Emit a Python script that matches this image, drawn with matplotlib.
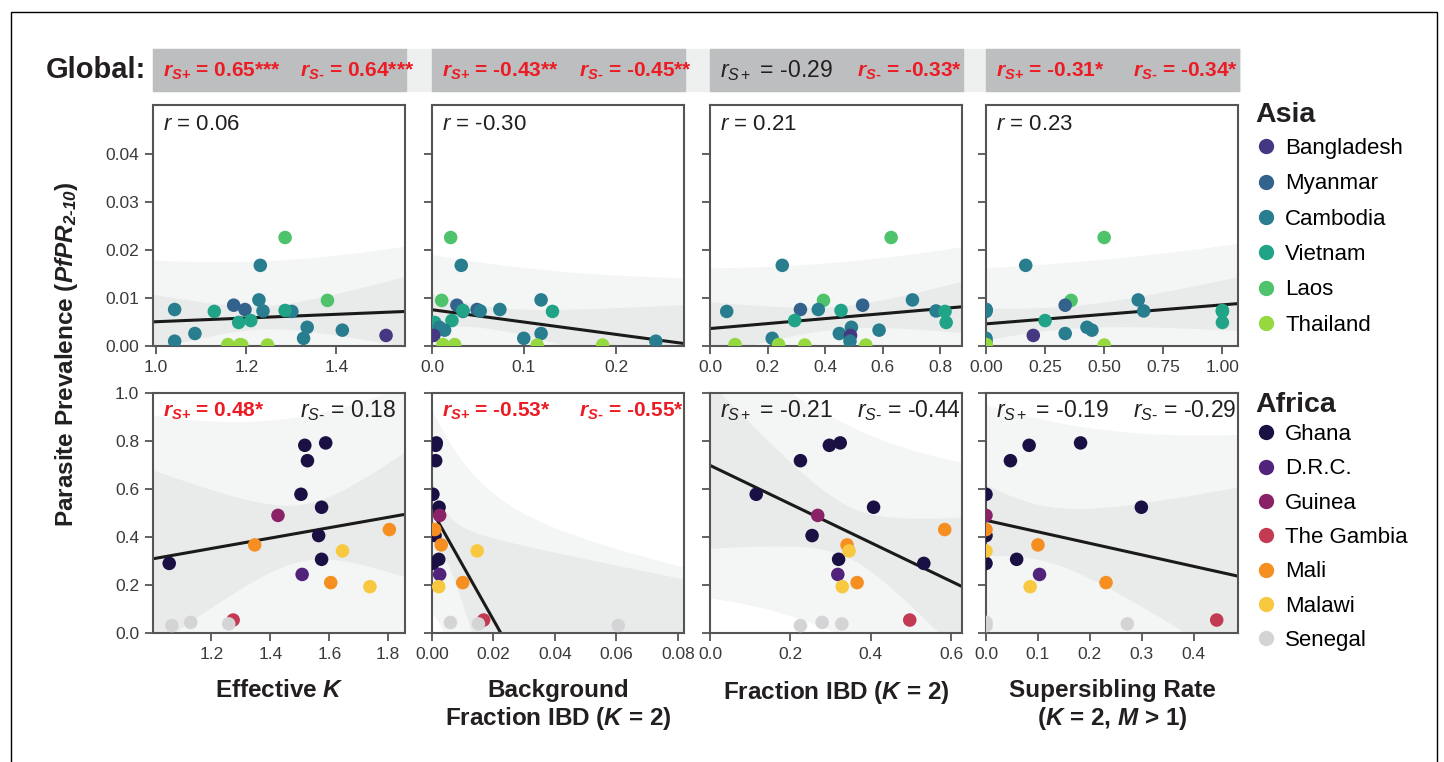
import numpy as np
import matplotlib.pyplot as plt
from matplotlib.patches import Rectangle
from matplotlib.lines import Line2D

plt.rcParams['font.family'] = ['Liberation Sans', 'DejaVu Sans']
plt.rcParams['mathtext.fontset'] = 'custom'
plt.rcParams['mathtext.rm'] = 'Liberation Sans'
plt.rcParams['mathtext.it'] = 'Liberation Sans:italic'
plt.rcParams['mathtext.bf'] = 'Liberation Sans:bold'
plt.rcParams['mathtext.bfit'] = 'Liberation Sans:italic:bold'

# ---------------- data ----------------
asia_names = ["Bangladesh", "Myanmar", "Cambodia", "Vietnam", "Laos", "Thailand"]
asia_colors = ["#453781", "#33638d", "#287d8e", "#20a386", "#4ec36b", "#95d840"]
africa_names = ["Ghana", "D.R.C.", "Guinea", "The Gambia", "Mali", "Malawi", "Senegal"]
africa_colors = ["#1b1044", "#51237a", "#8a2267", "#c33b52", "#f68f21", "#f8c841", "#d4d4d6"]

asia_country = ["Laos", "Cambodia", "Cambodia", "Laos", "Myanmar", "Myanmar", "Cambodia",
                "Cambodia", "Cambodia", "Vietnam", "Vietnam", "Vietnam", "Vietnam", "Cambodia",
                "Cambodia", "Cambodia", "Bangladesh", "Cambodia", "Cambodia", "Thailand",
                "Thailand", "Thailand", "Thailand"]
asia_prev = [0.0226, 0.0168, 0.0096, 0.0095, 0.0085, 0.0076, 0.0076, 0.0073, 0.0072, 0.0074,
             0.0072, 0.0053, 0.0049, 0.0039, 0.0033, 0.0026, 0.0022, 0.0016, 0.0010, 0.0003,
             0.0003, 0.0002, 0.0002]
asia_effk = [1.286, 1.231, 1.228, 1.380, 1.172, 1.197, 1.041, 1.237, 1.301, 1.286, 1.129, 1.210,
             1.183, 1.335, 1.413, 1.086, 1.510, 1.327, 1.041, 1.159, 1.186, 1.247, 1.190]
asia_bg = [0.0203, 0.0318, 0.1186, 0.0105, 0.0271, 0.049, 0.0738, 0.0524, 0.0336, 0.0336,
           0.131, 0.0217, 0.003, 0.008, 0.0137, 0.1186, 0.002, 0.0998, 0.2434, 0.0119,
           0.0246, 0.1143, 0.1855]
asia_frac = [0.629, 0.251, 0.703, 0.394, 0.530, 0.314, 0.376, 0.785, 0.058, 0.455, 0.816, 0.294,
             0.820, 0.491, 0.587, 0.449, 0.488, 0.216, 0.486, 0.087, 0.238, 0.329, 0.541]
asia_ss = [0.50, 0.168, 0.644, 0.36, 0.335, 0.0, 0.0, 0.667, 0.0, 1.0, 1.0, 0.25, 1.0, 0.427,
           0.448, 0.335, 0.20, 0.0, 0.0, 0.0, 0.0, 0.50, 0.0]

africa_country = ["Ghana", "Ghana", "Ghana", "Ghana", "Ghana", "Ghana", "Ghana", "Ghana",
                  "Guinea", "D.R.C.", "Mali", "Mali", "Mali", "Malawi", "Malawi", "The Gambia",
                  "Senegal", "Senegal", "Senegal"]
africa_prev = [0.290, 0.782, 0.792, 0.718, 0.578, 0.524, 0.406, 0.307, 0.490, 0.244, 0.367,
               0.431, 0.210, 0.342, 0.193, 0.054, 0.031, 0.044, 0.038]
africa_effk = [1.057, 1.517, 1.588, 1.526, 1.504, 1.574, 1.564, 1.574, 1.426, 1.508, 1.347,
               1.804, 1.605, 1.645, 1.738, 1.274, 1.066, 1.130, 1.259]
africa_bg = [0.0003, 0.0012, 0.0014, 0.0012, 0.0003, 0.0023, 0.001, 0.0022, 0.0025, 0.0025,
             0.003, 0.0009, 0.010, 0.0147, 0.0022, 0.0168, 0.0606, 0.006, 0.0151]
africa_frac = [0.532, 0.297, 0.324, 0.225, 0.115, 0.407, 0.254, 0.320, 0.268, 0.318, 0.341,
               0.584, 0.366, 0.346, 0.329, 0.497, 0.225, 0.279, 0.328]
africa_ss = [0.0, 0.083, 0.182, 0.047, 0.0, 0.299, 0.0, 0.059, 0.0, 0.103, 0.1, 0.0, 0.231,
             0.0, 0.085, 0.444, 0.0, 0.0, 0.272]

global_stats = [("0.65***", "0.64***"), ("-0.43**", "-0.45**"), ("-0.29", "-0.33*"), ("-0.31*", "-0.34*")]
asia_r = ["0.06", "-0.30", "0.21", "0.23"]
africa_stats = [("0.48*", "0.18"), ("-0.53*", "-0.55*"), ("-0.21", "-0.44"), ("-0.19", "-0.29")]

x_labels = ["Effective $\\mathbfit{K}$",
            "Background\nFraction IBD ($\\mathbfit{K}$ = 2)",
            "Fraction IBD ($\\mathbfit{K}$ = 2)",
            "Supersibling Rate\n($\\mathbfit{K}$ = 2, $\\mathbfit{M}$ > 1)"]

top_xlim = [(0.993, 1.552), (0.0, 0.274), (0.0, 0.875), (0.0, 1.066)]
top_xticks = [[1.0, 1.2, 1.4], [0.0, 0.1, 0.2], [0.0, 0.2, 0.4, 0.6, 0.8], [0.0, 0.25, 0.5, 0.75, 1.0]]
top_xtl = [["1.0", "1.2", "1.4"], ["0.0", "0.1", "0.2"], ["0.0", "0.2", "0.4", "0.6", "0.8"],
           ["0.00", "0.25", "0.50", "0.75", "1.00"]]
bot_xlim = [(1.002, 1.857), (0.0, 0.082), (0.0, 0.627), (0.0, 0.485)]
bot_xticks = [[1.2, 1.4, 1.6, 1.8], [0.0, 0.02, 0.04, 0.06, 0.08], [0.0, 0.2, 0.4, 0.6],
              [0.0, 0.1, 0.2, 0.3, 0.4]]
bot_xtl = [["1.2", "1.4", "1.6", "1.8"], ["0.00", "0.02", "0.04", "0.06", "0.08"],
           ["0.0", "0.2", "0.4", "0.6"], ["0.0", "0.1", "0.2", "0.3", "0.4"]]

RED = "#ec1c24"
W, H = 1444, 762


def tcrit(df):
    try:
        from scipy import stats
        return stats.t.ppf(0.975, df)
    except Exception:
        table = {14: 2.145, 15: 2.131, 16: 2.120, 17: 2.110, 19: 2.093, 21: 2.080}
        return table.get(df, 2.1)


def fit_bands(x, y, xs):
    x = np.asarray(x, float)
    y = np.asarray(y, float)
    b, a = np.polyfit(x, y, 1)
    n = len(x)
    s = np.sqrt(np.sum((y - (a + b * x)) ** 2) / (n - 2))
    sxx = np.sum((x - x.mean()) ** 2)
    t = tcrit(n - 2)
    ci = t * s * np.sqrt(1 / n + (xs - x.mean()) ** 2 / sxx)
    pi = t * s * np.sqrt(1 + 1 / n + (xs - x.mean()) ** 2 / sxx)
    return a + b * xs, ci, pi


SUBS = [("\\mathbfit{S}\\mathbf{+}", "S+"), ("\\mathbfit{S}\\mathbf{\u2010}", "S\u2010")]


def stat_label(k, val):
    bold_sub, plain_sub = SUBS[k]
    if "*" in val:
        return ("$\\mathbfit{r}_{" + bold_sub + "}$ = " + val,
                dict(color=RED, fontweight="bold", fontsize=15))
    return "$r_{" + plain_sub + "}$ = " + val, dict(color="#231f20", fontsize=16.5)


fig = plt.figure(figsize=(W / 100, H / 100), dpi=100)

col_l = [153, 432, 710, 986]
col_w = 252
rows = [(105, 346), (393, 633)]


def px_axes(l, t, r, b):
    return fig.add_axes([l / W, 1 - b / H, (r - l) / W, (b - t) / H])


# banner
fig.patches.append(Rectangle((153 / W, 1 - 91 / H), (1240 - 153) / W, 42 / H,
                             transform=fig.transFigure, color="#eef0ef", zorder=0))
for j in range(4):
    fig.patches.append(Rectangle((col_l[j] / W, 1 - 91 / H), (col_w + 1) / W, 42 / H,
                                 transform=fig.transFigure, color="#bcbec0", zorder=1))
    for k, val in enumerate(global_stats[j]):
        txt, kw = stat_label(k, val)
        fig.text((col_l[j] + 10 + k * 137) / W, 1 - 77 / H, txt, va="baseline", **kw)
fig.text(46 / W, 1 - 70 / H, "Global:", fontsize=21, fontweight="bold", va="center", color="#231f20")
fig.patches.append(Rectangle((11 / W, -0.01), (1437 - 11) / W, 1.01 - 12 / H,
                             transform=fig.transFigure, fill=False, ec="black", lw=1))

asia_x = [asia_effk, asia_bg, asia_frac, asia_ss]
africa_x = [africa_effk, africa_bg, africa_frac, africa_ss]
asia_cols = [asia_colors[asia_names.index(c)] for c in asia_country]
africa_cols = [africa_colors[africa_names.index(c)] for c in africa_country]
no_sen = np.array([c != "Senegal" for c in africa_country])

for i, (top, bot) in enumerate(rows):
    for j in range(4):
        ax = px_axes(col_l[j], top, col_l[j] + col_w, bot)
        if i == 0:
            xv, yv, cv = np.array(asia_x[j]), np.array(asia_prev), asia_cols
            xlim, xt, xtl = top_xlim[j], top_xticks[j], top_xtl[j]
            ax.set_ylim(0, 0.0502)
            ax.set_yticks([0, 0.01, 0.02, 0.03, 0.04])
            ytl = ["0.00", "0.01", "0.02", "0.03", "0.04"]
            fx, fy = xv, yv
        else:
            xv, yv, cv = np.array(africa_x[j]), np.array(africa_prev), africa_cols
            xlim, xt, xtl = bot_xlim[j], bot_xticks[j], bot_xtl[j]
            ax.set_ylim(0, 1.0)
            ax.set_yticks([0, 0.2, 0.4, 0.6, 0.8, 1.0])
            ytl = ["0.0", "0.2", "0.4", "0.6", "0.8", "1.0"]
            fx, fy = xv[no_sen], yv[no_sen]
        xs = np.linspace(xlim[0], xlim[1], 200)
        yhat, ci, pi = fit_bands(fx, fy, xs)
        ax.fill_between(xs, yhat - pi, yhat + pi, color="#f4f6f5", lw=0, zorder=1)
        ax.fill_between(xs, yhat - ci, yhat + ci, color="#e9ebea", lw=0, zorder=1.5)
        ax.plot(xs, yhat, color="#1a1a1a", lw=2.2, zorder=2)
        ax.scatter(xv, yv, c=cv, s=95, lw=0, zorder=3)
        ax.set_xlim(*xlim)
        ax.set_xticks(xt)
        ax.set_xticklabels(xtl)
        if j == 0:
            ax.set_yticklabels(ytl)
        else:
            ax.set_yticklabels([])
        for sp in ax.spines.values():
            sp.set_color("#555555")
            sp.set_linewidth(1.5)
        ax.tick_params(length=6, width=1.3, color="#555555", labelsize=12.5,
                       labelcolor="#3a3a3a", pad=4)
        if i == 0:
            ax.text(0.04, 0.895, "$r$ = " + asia_r[j], transform=ax.transAxes, fontsize=16,
                    color="#231f20", va="baseline")
        else:
            for k, val in enumerate(africa_stats[j]):
                txt, kw = stat_label(k, val)
                ax.text((10 + k * 137) / col_w, 0.9, txt, transform=ax.transAxes,
                        va="baseline", zorder=5, **kw)
        if i == 1:
            fig.text((col_l[j] + col_w / 2) / W, 1 - 679 / H, x_labels[j], ha="center",
                     va="top", fontsize=17.5, fontweight="bold", linespacing=1.15,
                     color="#231f20")

fig.text(67 / W, 1 - 354 / H, "Parasite Prevalence ($\\mathbfit{PfPR}_{\\mathbfit{2\u201010}}$)",
         rotation=90, ha="center", va="center", fontsize=17.5, fontweight="bold", color="#231f20")

asia_h = [Line2D([], [], marker="o", ls="", ms=10, color=c) for c in asia_colors]
africa_h = [Line2D([], [], marker="o", ls="", ms=10, color=c) for c in africa_colors]
legend_specs = [(asia_h, asia_names, "Asia", 115, 138, 0.645),
                (africa_h, africa_names, "Africa", 405, 424, 0.6)]
for hnd, names, title, title_y, top, spacing in legend_specs:
    fig.text(1255 / W, 1 - title_y / H, title, fontsize=20.5, fontweight="bold",
             va="center", color="#231f20")
    fig.legend(hnd, names, loc="upper left", bbox_to_anchor=(1253 / W, 1 - top / H),
               frameon=False, fontsize=16, labelspacing=spacing, handletextpad=0.3,
               handlelength=1.15, borderaxespad=0, borderpad=0)

fig.savefig("out.png", dpi=100)
